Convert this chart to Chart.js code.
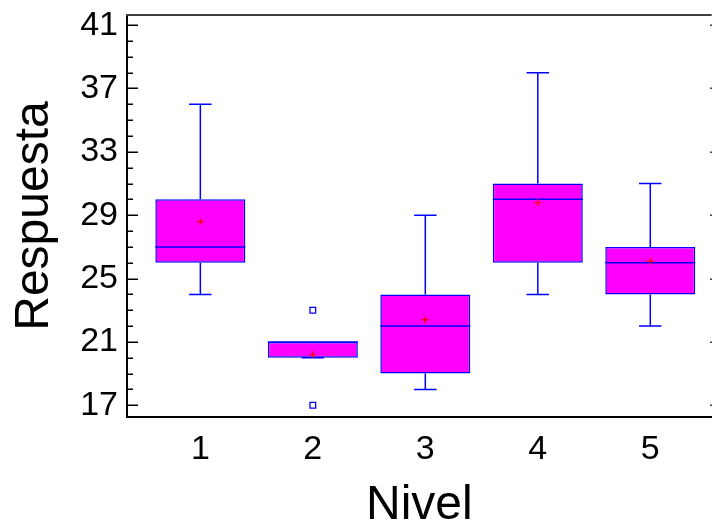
<!DOCTYPE html>
<html>
<head>
<meta charset="utf-8">
<script src="https://cdn.jsdelivr.net/npm/chart.js@4/dist/chart.umd.min.js"></script>
<style>
  html, body { margin: 0; padding: 0; background: #fff; overflow: hidden; }
  #c { display: block; }
</style>
</head>
<body>
<canvas id="c" width="717" height="525" style="width:717px;height:525px"></canvas>
<script>
// ---- data ----
const categories   = ["1", "2", "3", "4", "5"];
const levels       = [1, 2, 3, 4, 5];
const whiskerLow   = [24, 20, 18, 24, 22];
const q1           = [26, 20, 19, 26, 24];
const medians      = [27, 21, 22, 30, 26];
const q3           = [30, 21, 24, 31, 27];
const whiskerHigh  = [36, 21, 29, 38, 31];
const means        = [28.6, 20.2, 22.4, 29.8, 26.1];
const outlierLevel = [2, 2];
const outlierValue = [23, 17];
const yTickValues  = [17, 21, 25, 29, 33, 37, 41];
const yMinorStep   = 1;

const FONT = "'Liberation Sans', Arial, Helvetica, sans-serif";
const BLUE = "#0000FF";

const boxExtras = {
  id: 'boxExtras',
  afterDatasetDraw(chart, args) {
    if (args.index !== 0) return;
    const ctx = chart.ctx, xs = chart.scales.x, ys = chart.scales.y;
    ctx.save();
    ctx.strokeStyle = BLUE;
    ctx.lineWidth = 1.5;
    levels.forEach((lv, i) => {
      const xc = xs.getPixelForValue(lv);
      const capL = xs.getPixelForValue(lv - 0.1), capR = xs.getPixelForValue(lv + 0.1);
      const boxL = xs.getPixelForValue(lv - 0.4), boxR = xs.getPixelForValue(lv + 0.4);
      ctx.beginPath();
      ctx.moveTo(xc, ys.getPixelForValue(q3[i]));
      ctx.lineTo(xc, ys.getPixelForValue(whiskerHigh[i]));
      ctx.moveTo(capL, ys.getPixelForValue(whiskerHigh[i]));
      ctx.lineTo(capR, ys.getPixelForValue(whiskerHigh[i]));
      ctx.moveTo(xc, ys.getPixelForValue(q1[i]));
      ctx.lineTo(xc, ys.getPixelForValue(whiskerLow[i]));
      ctx.moveTo(capL, ys.getPixelForValue(whiskerLow[i]));
      ctx.lineTo(capR, ys.getPixelForValue(whiskerLow[i]));
      ctx.moveTo(boxL, ys.getPixelForValue(medians[i]));
      ctx.lineTo(boxR, ys.getPixelForValue(medians[i]));
      ctx.stroke();
    });
    ctx.restore();
  },
  afterDraw(chart) {
    const ctx = chart.ctx, ys = chart.scales.y, a = chart.chartArea;
    ctx.save();
    ctx.strokeStyle = "#404040";
    ctx.lineWidth = 2;
    ctx.beginPath();
    ctx.moveTo(a.left - 1, a.top);
    ctx.lineTo(a.right, a.top);
    ctx.stroke();
    ctx.strokeStyle = "#000";
    ctx.lineWidth = 1.5;
    ctx.beginPath();
    const start = Math.ceil(ys.min), end = Math.floor(ys.max);
    for (let iv = start; iv <= end; iv += yMinorStep) {
      const y = Math.round(ys.getPixelForValue(iv)) + 0.25;
      const major = yTickValues.includes(iv);
      const len = major ? 11 : 6;
      ctx.moveTo(a.left, y); ctx.lineTo(a.left + len, y);
      // right frame lies just beyond the visible edge: only major tick tips show
      if (major) { ctx.moveTo(a.right, y); ctx.lineTo(a.right - 1.5, y); }
    }
    ctx.stroke();
    ctx.restore();
  }
};

new Chart(document.getElementById('c'), {
  type: 'bar',
  data: {
    datasets: [
      {
        type: 'bar',
        data: levels.map((lv, i) => ({ x: lv, y: [q1[i], q3[i]] })),
        backgroundColor: "#FF00FF",
        borderColor: BLUE,
        borderWidth: 1.5,
        borderSkipped: false,
        categoryPercentage: 1.0,
        barPercentage: 0.8,
        order: 3
      },
      {
        type: 'line',
        showLine: false,
        data: levels.map((lv, i) => ({ x: lv, y: means[i] })),
        pointStyle: 'cross',
        pointRadius: 3.5,
        pointBorderWidth: 1.3,
        borderColor: "#FF0000",
        backgroundColor: "#FF0000",
        order: 1
      },
      {
        type: 'line',
        showLine: false,
        data: outlierLevel.map((lv, i) => ({ x: lv, y: outlierValue[i] })),
        pointStyle: 'rect',
        pointRadius: 4,
        pointBorderWidth: 1.3,
        borderColor: BLUE,
        backgroundColor: "rgba(255,255,255,0)",
        order: 2
      }
    ]
  },
  options: {
    responsive: false,
    animation: false,
    events: [],
    devicePixelRatio: 1,
    layout: { padding: { left: 0, right: 0, top: 15, bottom: 0 } },
    plugins: { legend: { display: false }, tooltip: { enabled: false } },
    scales: {
      x: {
        type: 'linear',
        offset: false,
        min: 0.348,
        max: 5.546,
        afterFit(s) { s.height = 108; s.paddingLeft = 0; s.paddingRight = 0; },
        afterBuildTicks(s) { s.ticks = levels.map(v => ({ value: v })); },
        grid: { display: false, drawTicks: false, offset: false },
        border: { display: true, color: "#000", width: 2 },
        ticks: {
          padding: 12,
          color: "#000",
          font: { family: FONT, size: 34 },
          maxRotation: 0,
          autoSkip: false,
          callback: (v) => categories[levels.indexOf(v)] ?? ''
        },
        title: {
          display: true,
          text: "Nivel",
          color: "#000",
          font: { family: FONT, size: 48, lineHeight: 0.8 },
          padding: { top: 0, bottom: 0 }
        }
      },
      y: {
        type: 'linear',
        min: 16.26,
        max: 41.64,
        afterFit(s) { s.width = 127; s.paddingTop = 0; s.paddingBottom = 0; },
        afterBuildTicks(s) { s.ticks = yTickValues.map(v => ({ value: v })); },
        grid: { display: false, drawTicks: false },
        border: { display: true, color: "#000", width: 2 },
        ticks: {
          padding: 9,
          color: "#000",
          font: { family: FONT, size: 34 },
          autoSkip: false,
          callback: (v) => String(v)
        },
        title: {
          display: true,
          text: "Respuesta",
          color: "#000",
          font: { family: FONT, size: 48, lineHeight: 1 },
          padding: { top: 11, bottom: 0 }
        }
      }
    }
  },
  plugins: [boxExtras]
});
</script>
</body>
</html>
